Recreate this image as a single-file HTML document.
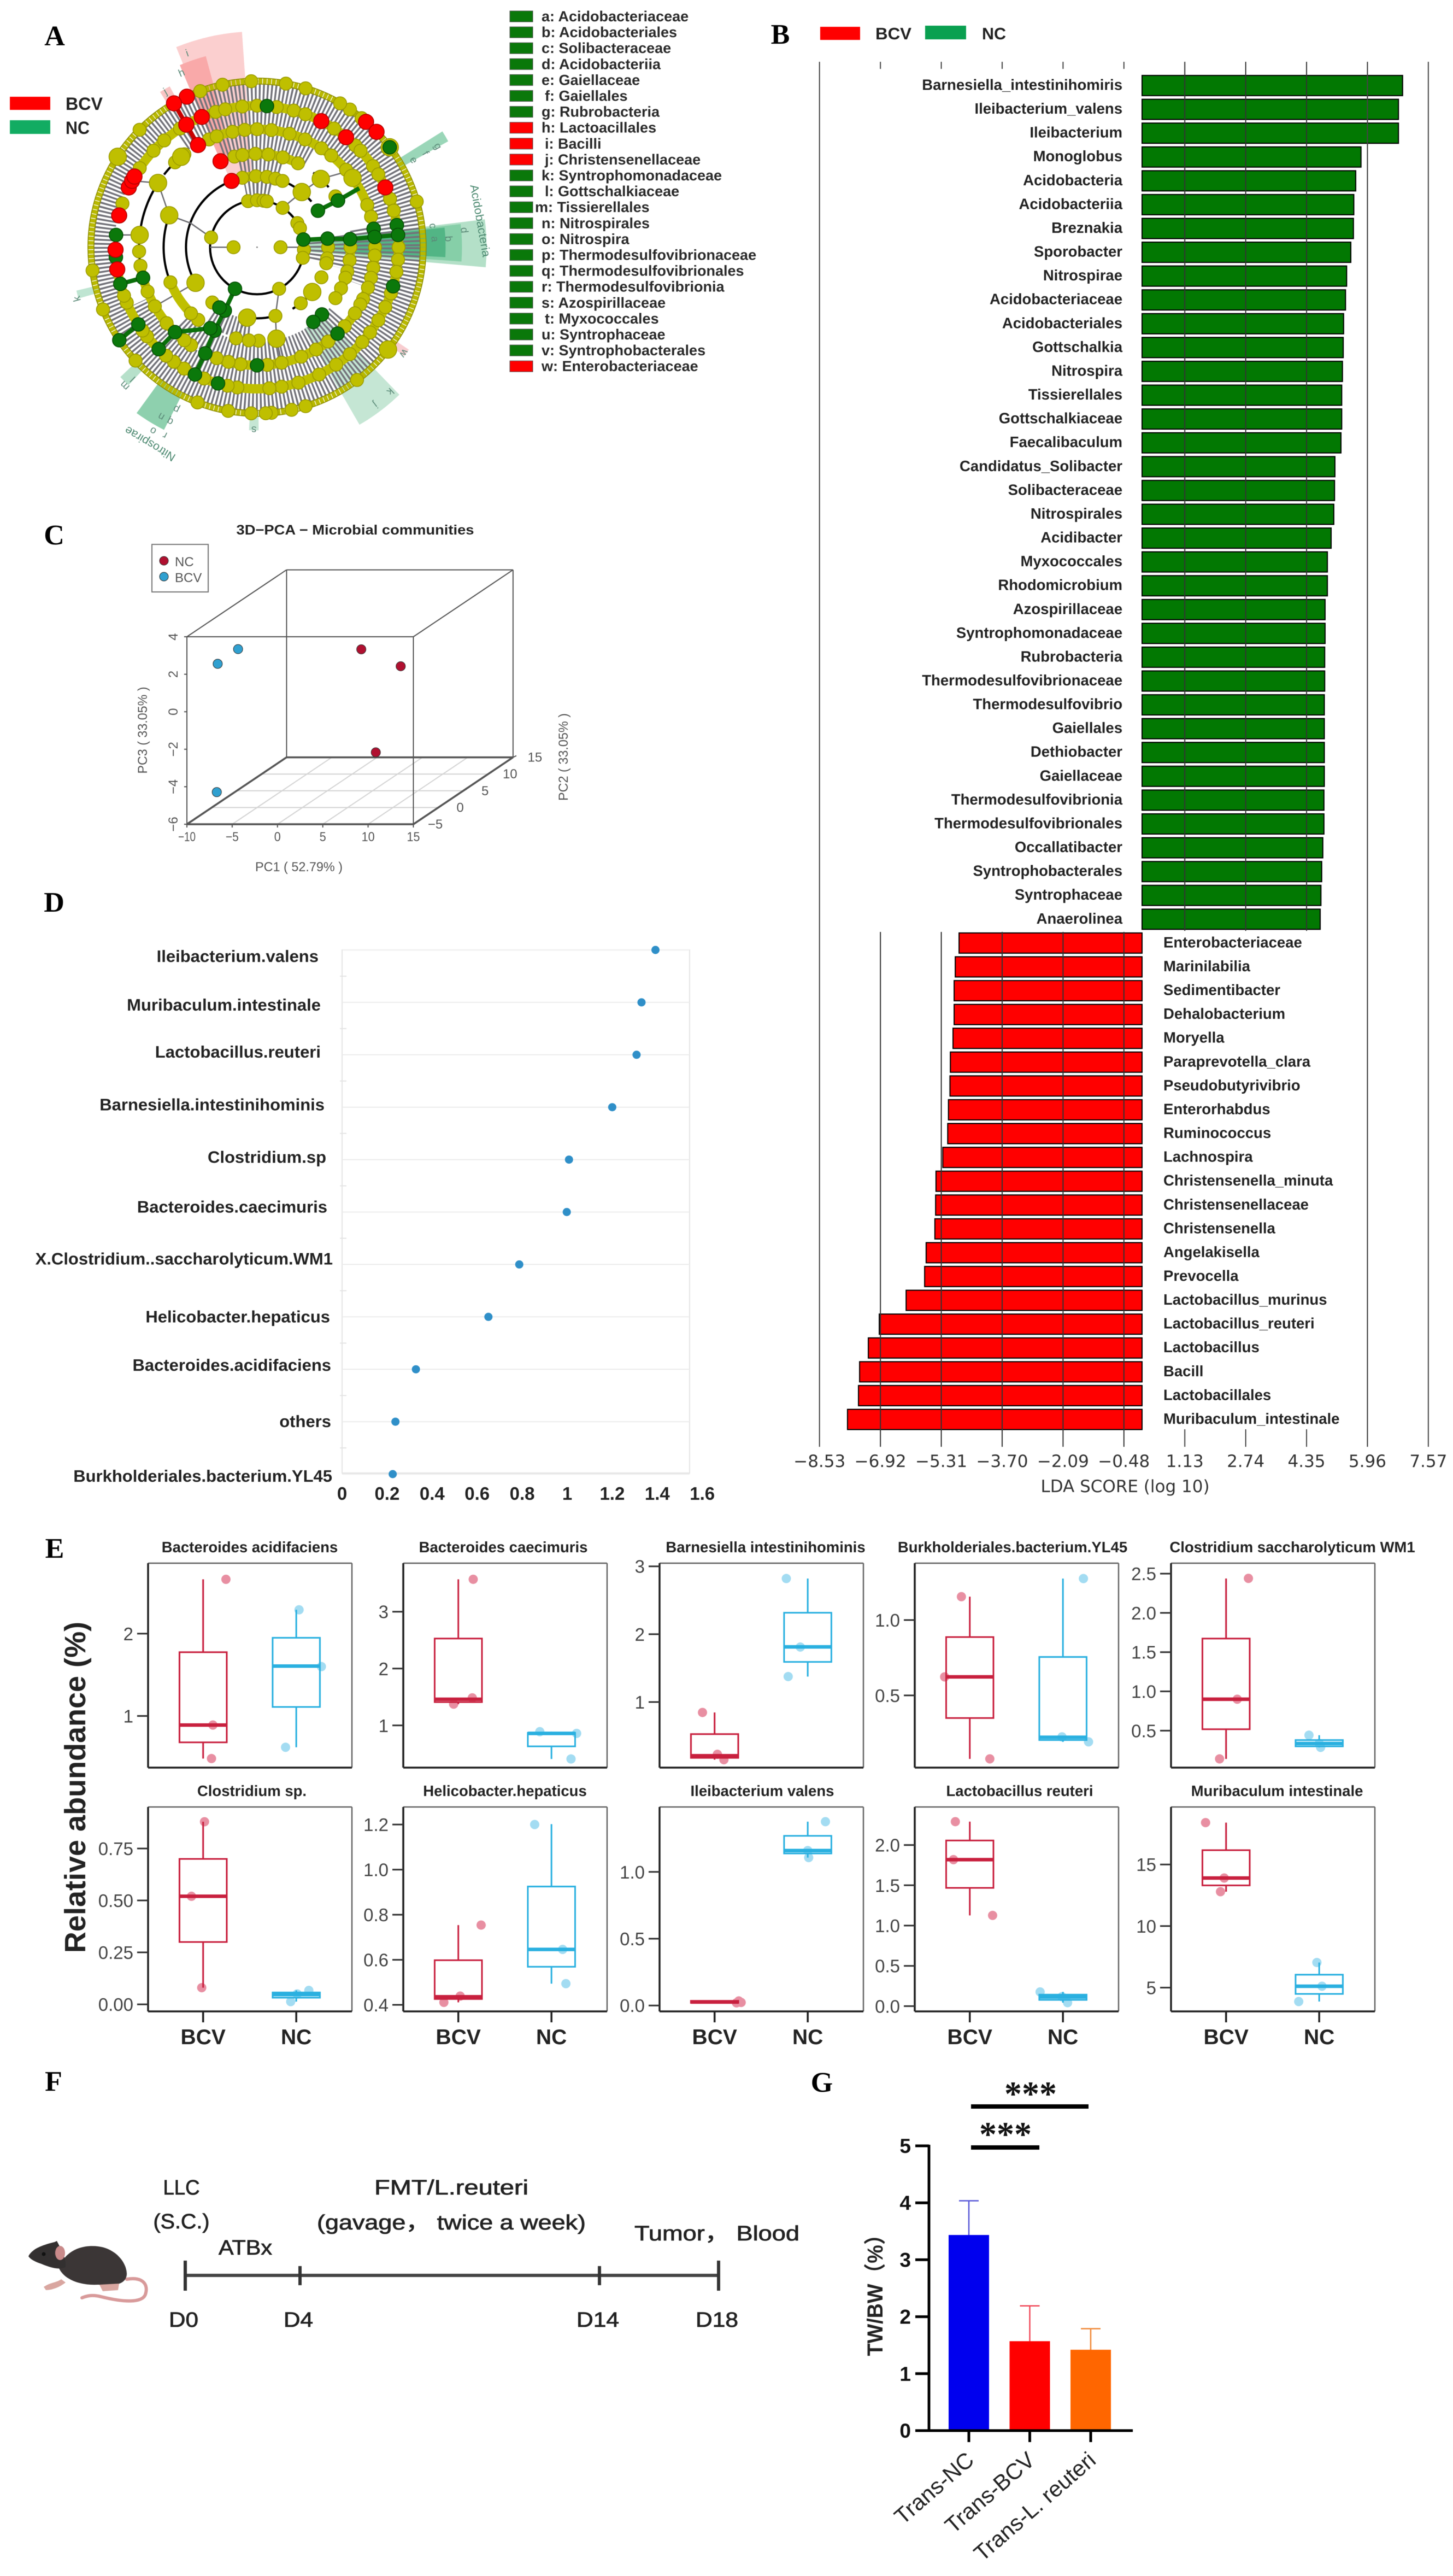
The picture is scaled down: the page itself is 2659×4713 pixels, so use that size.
<!DOCTYPE html>
<html lang="en">
<head>
<meta charset="utf-8">
<title>Microbiome figure panels A-G</title>
<style>
html,body{margin:0;padding:0;background:#fff;}
svg{display:block;filter:blur(0.7px);}
text{font-family:"Liberation Sans","Noto Sans CJK SC",sans-serif;}
</style>
</head>
<body>
<svg id="fig" xmlns="http://www.w3.org/2000/svg" width="2659" height="4713" viewBox="0 0 2659 4713">
  <rect x="0" y="0" width="2659" height="4713" fill="#fff"/>
  <g id="pa"></g>
  <g id="pb"></g>
  <g id="pc"></g>
  <g id="pd"></g>
  <g id="pe"></g>
  <g id="pf">
    <g>
      <path d="M232 4170 C262 4165 272 4180 266 4198 C260 4214 225 4212 185 4202 C170 4198 160 4200 150 4204" fill="none" stroke="#d89a9a" stroke-width="6" stroke-linecap="round"/>
      <path d="M108 4150 C118 4118 150 4106 180 4110 C212 4114 232 4140 232 4160 C232 4178 212 4184 180 4180 C150 4182 118 4172 108 4150Z" fill="#3b3636"/>
      <path d="M52 4128 C60 4112 84 4106 100 4102 L104 4100 C110 4112 122 4130 120 4148 C108 4154 90 4148 76 4142 C64 4138 56 4134 52 4128Z" fill="#333030"/>
      <ellipse cx="110" cy="4122" rx="9" ry="13" fill="#c98a8a"/>
      <circle cx="80" cy="4124" r="3.5" fill="#111"/>
      <path d="M80 4184 C92 4176 104 4176 112 4170 L120 4176 C110 4184 96 4190 84 4190Z" fill="#d9a6a0"/>
      <path d="M182 4180 L218 4178 L216 4190 L188 4192Z" fill="#d9a6a0"/>
    </g>
  </g>
  <g id="pg"></g>
</svg>
<script>
/* ---------- panel A: cladogram values ---------- */
const cladoRadii=[43,86,130,171,216,259,304];
const yellowNodes=[
 [0,180],
 [3,13,-31,-24,-57,-101,-90,-82,-78,62,192],
 [258,269,278,285,291,0,9,13,25,52,75,-31,129],
 [256,261,269,277,286,296,-33,0,8,15,19,26,33,89,95,103,129,135,158],
 [246,250,258,264,270,277,286,294,303,309,319,339,345,0,4,10,15,20,26,29,34,42,53,60,68,78,85,98,104,110,124,128,140,150,158,171,178,226,232],
 [253,257,264,270,278,285,290,303,314,317,325,329,340,345,0,5,10,19,25,31,37,42,49,56,64,73,80,85,98,102,112,121,126,130,141,144,157,160,198,214,223,229,237],
 [268,287,304,309,344,53,73,78,85,87,92,100,111,137,158,172,225,250,258,280,300]
];
const bigYellowNodes=[[],[],[-51,39,98,150],[-47,78,200],[186,213,230,324],[],[213,323,38]];
const greenNodes=[[],[-9.5,118],[-7,-31,117,122],[-5,-30,46,53,117,120],[-9,-5,47,90,116,134,165],[274,351,355,16,106,116,134,147,165,176,185],[146,323]];
const redNodes=[[],[],[249],[247],[240],[247,240,297,309,335,171,179,193,205,208,210],[245,240,311,316]];
/* continuous runs of clustered neutral nodes: [ring index, from angle, to angle] */
const cladoNodeRuns=[[2,258,291],[2,0,13],[3,256,296],[3,0,33],[3,129,158],[4,246,345],[4,0,110],[4,124,171],[5,214,360],[5,0,170]];

/* ---------- panel A: legend ---------- */
const cladoLegendNames=["a: Acidobacteriaceae","b: Acidobacteriales","c: Solibacteraceae","d: Acidobacteriia","e: Gaiellaceae","f: Gaiellales","g: Rubrobacteria","h: Lactoacillales","i: Bacilli","j: Christensenellaceae","k: Syntrophomonadaceae","l: Gottschalkiaceae","m: Tissierellales","n: Nitrospirales","o: Nitrospira","p: Thermodesulfovibrionaceae","q: Thermodesulfovibrionales","r: Thermodesulfovibrionia","s: Azospirillaceae","t: Myxococcales","u: Syntrophaceae","v: Syntrophobacterales","w: Enterobacteriaceae"];
const cladoLegendGroups=["NC","NC","NC","NC","NC","NC","NC","BCV","BCV","BCV","NC","NC","NC","NC","NC","NC","NC","NC","NC","NC","NC","NC","BCV"];

/* ---------- panel B: LDA ---------- */
const ldaTicks=[-8.53,-6.92,-5.31,-3.70,-2.09,-0.48,1.13,2.74,4.35,5.96,7.57];
const ncTaxa=["Barnesiella_intestinihomiris","Ileibacterium_valens","Ileibacterium","Monoglobus","Acidobacteria","Acidobacteriia","Breznakia","Sporobacter","Nitrospirae","Acidobacteriaceae","Acidobacteriales","Gottschalkia","Nitrospira","Tissierellales","Gottschalkiaceae","Faecalibaculum","Candidatus_Solibacter","Solibacteraceae","Nitrospirales","Acidibacter","Myxococcales","Rhodomicrobium","Azospirillaceae","Syntrophomonadaceae","Rubrobacteria","Thermodesulfovibrionaceae","Thermodesulfovibrio","Gaiellales","Dethiobacter","Gaiellaceae","Thermodesulfovibrionia","Thermodesulfovibrionales","Occallatibacter","Syntrophobacterales","Syntrophaceae","Anaerolinea"];
const ncLda=[6.89,6.78,6.78,5.79,5.65,5.6,5.59,5.52,5.41,5.38,5.33,5.32,5.30,5.28,5.28,5.26,5.10,5.09,5.07,5.0,4.9,4.9,4.84,4.84,4.83,4.83,4.82,4.82,4.82,4.82,4.81,4.81,4.78,4.75,4.73,4.71];
const bcvTaxa=["Enterobacteriaceae","Marinilabilia","Sedimentibacter","Dehalobacterium","Moryella","Paraprevotella_clara","Pseudobutyrivibrio","Enterorhabdus","Ruminococcus","Lachnospira","Christensenella_minuta","Christensenellaceae","Christensenella","Angelakisella","Prevocella","Lactobacillus_murinus","Lactobacillus_reuteri","Lactobacillus","Bacill","Lactobacillales","Muribaculum_intestinale"];
const bcvLda=[-4.84,-4.94,-4.97,-4.97,-5.0,-5.07,-5.08,-5.12,-5.14,-5.27,-5.45,-5.46,-5.48,-5.71,-5.75,-6.24,-6.95,-7.24,-7.47,-7.5,-7.79];

/* ---------- panel C: PCA ---------- */
const pcaGroups=["BCV","BCV","BCV","NC","NC","NC"];
const pc1Values=[-7.1,-7.7,-8.9,5.4,9.2,1.5];
const pc2Values=[0,-3,-1,2,3,12];
const pc3Values=[2.45,2.2,-5.0,2.08,1.0,-5.2];
const pc1Ticks=[-10,-5,0,5,10,15];
const pc2Ticks=[-5,0,5,10,15];
const pc3Ticks=[-6,-4,-2,0,2,4];

/* ---------- panel D: dotplot ---------- */
const importanceTaxa=["Ileibacterium.valens","Muribaculum.intestinale","Lactobacillus.reuteri","Barnesiella.intestinihominis","Clostridium.sp","Bacteroides.caecimuris","X.Clostridium..saccharolyticum.WM1","Helicobacter.hepaticus","Bacteroides.acidifaciens","others","Burkholderiales.bacterium.YL45"];
const importanceValues=[1.392,1.33,1.308,1.20,1.008,0.998,0.787,0.65,0.328,0.237,0.225];
const importanceTicks=[0,0.2,0.4,0.6,0.8,1,1.2,1.4,1.6];

/* ---------- panel E: boxplots ---------- */
const boxTitles=["Bacteroides acidifaciens","Bacteroides caecimuris","Barnesiella intestinihominis","Burkholderiales.bacterium.YL45","Clostridium saccharolyticum WM1","Clostridium sp.","Helicobacter.hepaticus","Ileibacterium valens","Lactobacillus reuteri","Muribaculum intestinale"];
const boxDomains=[[0.373,2.856],[0.258,3.853],[0.033,3.046],[0.021,1.377],[0.029,2.633],[-0.034,0.95],[0.371,1.278],[-0.044,1.486],[-0.065,2.472],[3.07,19.67]];
const boxTicks=[[1,2],[1,2,3],[1,2,3],[0.5,1],[0.5,1,1.5,2,2.5],[0,0.25,0.5,0.75],[0.4,0.6,0.8,1,1.2],[0,0.5,1],[0,0.5,1,1.5,2],[5,10,15]];
const boxTickDecimals=[0,0,0,1,1,2,1,1,1,0];
/* [min, q1, median, q3, max] */
const bcvStats=[[0.483,0.68,0.89,1.775,2.66],[1.374,1.41,1.46,2.528,3.57],[0.15,0.177,0.208,0.527,0.846],[0.079,0.35,0.623,0.887,1.155],[0.14,0.518,0.9,1.673,2.438],[0.08,0.30,0.52,0.70,0.879],[0.411,0.426,0.436,0.598,0.754],[0.02,0.02,0.026,0.035,0.034],[1.126,1.468,1.818,2.056,2.29],[12.79,13.3,13.9,16.16,18.4]];
const ncStats=[[0.62,1.11,1.606,1.95,2.29],[0.41,0.632,0.86,0.87,0.89],[1.375,1.591,1.812,2.316,2.82],[0.192,0.204,0.222,0.755,1.275],[0.287,0.3,0.336,0.38,0.442],[0.013,0.032,0.047,0.057,0.067],[0.494,0.569,0.646,0.925,1.202],[1.107,1.138,1.16,1.27,1.376],[0.043,0.078,0.113,0.143,0.177],[3.87,4.49,5.11,6.05,7.04]];
const bcvPoints=[[2.66,0.89,0.483],[3.57,1.485,1.374],[0.846,0.229,0.15],[1.155,0.623,0.079],[2.44,0.9,0.14],[0.879,0.52,0.08],[0.754,0.439,0.411],[0.034,0.02,0.023],[2.29,1.818,1.126],[18.4,13.9,12.79]];
const ncPoints=[[2.29,1.6,0.62],[0.89,0.86,0.41],[2.82,1.81,1.375],[1.275,0.225,0.192],[0.442,0.287,0.336],[0.067,0.05,0.013],[1.2,0.646,0.494],[1.376,1.16,1.107],[0.177,0.117,0.043],[7.04,5.11,3.87]];
const bcvJitter=[[0.245,0.105,0.09],[0.16,0.15,-0.05],[-0.13,0.03,0.10],[-0.09,-0.27,0.215],[0.24,0.12,-0.07],[0.015,-0.125,-0.015],[0.245,0.02,-0.155],[0.26,0.235,0.285],[-0.155,-0.175,0.245],[-0.22,-0.02,-0.06]];
const ncJitter=[[0.03,0.27,-0.115],[-0.125,0.27,0.21],[-0.23,-0.08,-0.21],[0.22,-0.01,0.275],[-0.11,0.015,0],[0.135,0.01,-0.06],[-0.18,0.12,0.155],[0.19,0,0.01],[-0.245,-0.01,0.05],[-0.025,0.03,-0.22]];
const boxGroups=["BCV","NC"];

/* ---------- panel F: timeline ---------- */
const timelineDays=[0,4,14,18];
const timelineLabels=["D0","D4","D14","D18"];

/* ---------- panel G: bars ---------- */
const tumorGroups=["Trans-NC","Trans-BCV","Trans-L. reuteri"];
const tumorMeans=[3.435,1.57,1.42];
const tumorUpper=[4.035,2.19,1.79];
const tumorTicks=[0,1,2,3,4,5];

/* ---------- helpers ---------- */
const NS="http://www.w3.org/2000/svg";
function mk(parent,tag,attrs,name){
  const el=document.createElementNS(NS,tag);
  for(const k in attrs){el.setAttribute(k,attrs[k]);}
  
  
  parent.appendChild(el);
  return el;
}
function txt(parent,x,y,str,o,name){
  const a={x:x,y:y,'font-size':o.size,fill:o.fill||'#111','text-anchor':o.anchor||'start'};
  if(o.weight)a['font-weight']=o.weight;
  if(o.family)a['style']='font-family:'+o.family;
  if(o.rotate!==undefined)a.transform='rotate('+o.rotate+' '+x+' '+y+')';
  if(o.width){a.textLength=o.width;a.lengthAdjust='spacingAndGlyphs';}
  if(o.strokeW){a.stroke=o.fill||'#111';a['stroke-width']=o.strokeW;}
  const el=mk(parent,'text',a,name);
  el.textContent=str;
  return el;
}
function line(parent,x1,y1,x2,y2,stroke,w,name){
  return mk(parent,'line',{x1:x1,y1:y1,x2:x2,y2:y2,stroke:stroke,'stroke-width':w},name);
}
const SERIF='"Liberation Serif",serif';
function panelLetter(parent,x,y,s){
  txt(parent,x,y,s,{size:52,weight:'bold',anchor:'middle',family:SERIF,fill:'#000'},'panel-label-'+s.toLowerCase());
}

/* ---------- panel A ---------- */
(function(){
  const g=document.getElementById('pa');
  const cx=470.4,cy=452.4;
  const pol=(r,t)=>[cx+r*Math.cos(t*Math.PI/180),cy+r*Math.sin(t*Math.PI/180)];
  function arcPath(r,t1,t2){
    const a=pol(r,t1),b=pol(r,t2);
    const large=Math.abs(t2-t1)>180?1:0;
    return 'M'+a[0]+' '+a[1]+' A'+r+' '+r+' 0 '+large+' 1 '+b[0]+' '+b[1];
  }
  function wedge(r1,r2,t1,t2,fill,name){
    const a=pol(r1,t1),b=pol(r2,t1),c=pol(r2,t2),d=pol(r1,t2);
    mk(g,'path',{d:'M'+a.join(' ')+' L'+b.join(' ')+' A'+r2+' '+r2+' 0 0 1 '+c.join(' ')+' L'+d.join(' ')+' A'+r1+' '+r1+' 0 0 0 '+a.join(' ')+'Z',fill:fill},name);
  }
  panelLetter(g,100,83,'A');
  mk(g,'rect',{x:18,y:177,width:74,height:24,fill:'#ff0000'},'legend-swatch-bcv');
  txt(g,120,201,'BCV',{size:32,weight:'bold',fill:'#222',width:68},'legend-label-bcv');
  mk(g,'rect',{x:18,y:220,width:74,height:25,fill:'#12ac62'},'legend-swatch-nc');
  txt(g,120,245,'NC',{size:32,weight:'bold',fill:'#222',width:44},'legend-label-nc');

  wedge(130,395,248,266,'#fbcfcf','clade-shade-bacilli');
  wedge(172,362,247,255,'#f9a9a9','clade-shade-lactobacillales');
  wedge(300,335,238,241.5,'#f9c4c4','clade-shade-christensenellaceae');
  wedge(86,420,-7,5,'#b4e0c8','clade-shade-acidobacteria');
  wedge(130,375,-6.5,4,'#86cfa8','clade-shade-acidobacteriia');
  wedge(172,345,-6,3,'#52b585','clade-shade-acidobacteriales');
  wedge(300,400,-32,-29,'#9ad6b8','clade-shade-rubrobacteria');
  wedge(172,375,46,60,'#c5e6d4','clade-shade-gottschalkiaceae');
  wedge(300,375,117,126,'#8ed0ae','clade-shade-nitrospirae');
  wedge(300,345,133,136.5,'#b6e0ca','clade-shade-tissierellales');
  wedge(300,340,164,166.5,'#bfe5d2','clade-shade-syntrophomonadaceae');
  wedge(300,335,34,36.5,'#f8cdd0','clade-shade-enterobacteriaceae');
  wedge(300,335,89.5,92.5,'#c5e6d4','clade-shade-azospirillaceae');

  const combs=[[88,128,262,283],[88,128,-9,13],[132,169,258,288],[132,169,-8,14],[132,169,95,125],[173,214,250,300],[173,214,-10,20],[173,214,40,135],[218,257,235,515],[261,300,0,359.9]];
  combs.forEach(function(c){
    const r=(c[0]+c[1])/2;
    const d=Math.abs(c[3]-c[2])>355?
      'M'+(cx+r)+' '+cy+' A'+r+' '+r+' 0 1 1 '+(cx-r)+' '+cy+' A'+r+' '+r+' 0 1 1 '+(cx+r)+' '+cy:
      arcPath(r,c[2],c[3]);
    mk(g,'path',{d:d,fill:'none',stroke:'#73737a','stroke-width':c[1]-c[0],'stroke-dasharray':'3.4 3.8'},'clade-branch-comb');
  });

  mk(g,'circle',{cx:cx,cy:cy,r:cladoRadii[1],fill:'none',stroke:'#000','stroke-width':4},'clade-ring-2');
  const blackArcs=[[130,150,250],[130,40,60],[130,75,98],[130,285,320],[171,158,200],[171,-53,-40],[216,172,213],[216,218,232]];
  blackArcs.forEach(function(a){
    mk(g,'path',{d:arcPath(a[0],a[1],a[2]),fill:'none',stroke:'#000','stroke-width':4},'clade-ring-arc');
  });

  const grayLinks=[[43,180,86,180],[43,0,86,0],[86,192,130,200],[130,200,171,200],[171,200,216,213],[216,186,259,185],[216,213,259,208],[86,-57,130,-51],[130,-51,171,-47],[171,-47,216,-40],[86,62,130,75],[130,98,171,103],[130,75,171,78],[171,78,216,78],[171,150,216,150],[130,150,171,150],[86,-90,130,-90],[86,-82,130,-82],[86,-101,130,-101]];
  grayLinks.forEach(function(l){
    const a=pol(l[0],l[1]),b=pol(l[2],l[3]);
    line(g,a[0],a[1],b[0],b[1],'#6d6d72',2.5,'clade-branch');
  });
  cladoNodeRuns.forEach(function(run){
    const r=cladoRadii[run[0]];
    const span=run[2]-run[1];
    const mid=run[1]+span/2;
    mk(g,'path',{d:arcPath(r,run[1],mid)+' '+arcPath(r,mid,run[2]),fill:'none',stroke:'#bfbf00','stroke-width':17,'stroke-linecap':'round'},'clade-node-cluster');
  });
  const thickLinks=[
    [[[86,118],[130,117],[171,117],[216,116],[259,116]],'#0a700a'],
    [[[86,-9],[130,-7],[171,-5],[216,-5],[259,-5]],'#0a700a'],
    [[[130,-31],[171,-30],[216,-30]],'#0a700a'],
    [[[216,165],[259,165]],'#0a700a'],
    [[[259,147],[304,146]],'#0a700a'],
    [[[171,120],[216,134],[259,134]],'#0a700a'],
    [[[216,240],[259,240],[304,240]],'#c80000']
  ];
  thickLinks.forEach(function(l){
    const pts=l[0].map(function(p){return pol(p[0],p[1]).join(',');}).join(' ');
    mk(g,'polyline',{points:pts,fill:'none',stroke:l[1],'stroke-width':8},'clade-highlight-branch');
  });

  const outer=cladoRadii[6];
  mk(g,'circle',{cx:cx,cy:cy,r:outer,fill:'none',stroke:'#b8b800','stroke-width':12,'stroke-dasharray':'7 1.2'},'clade-outer-node-ring');
  mk(g,'circle',{cx:cx,cy:cy,r:outer+5.5,fill:'none',stroke:'#8c8c00','stroke-width':1.5},'clade-outer-edge');
  mk(g,'circle',{cx:cx,cy:cy,r:outer-5.5,fill:'none',stroke:'#8c8c00','stroke-width':1.5},'clade-outer-edge');

  function nodes(list,rad,fill,stroke,name){
    list.forEach(function(arr,i){
      arr.forEach(function(t){
        const p=pol(cladoRadii[i],t);
        mk(g,'circle',{cx:p[0],cy:p[1],r:rad,fill:fill,stroke:stroke,'stroke-width':1.5},name);
      });
    });
  }
  nodes(yellowNodes,12,'#bfbf00','#9a9a00','clade-node-neutral');
  nodes(bigYellowNodes,16,'#bfbf00','#9a9a00','clade-node-neutral-large');
  nodes(greenNodes,12.5,'#0b780b','#064d06','clade-node-nc');
  nodes(redNodes,14,'#ff0000','#b00000','clade-node-bcv');
  mk(g,'circle',{cx:cx,cy:cy,r:1.5,fill:'#888'},'clade-root');

  txt(g,872,405,'Acidobacteria',{size:21,anchor:'middle',fill:'#4e8a72',rotate:80,width:134},'clade-label-acidobacteria');
  txt(g,278,806,'Nitrospirae',{size:21,anchor:'middle',fill:'#4e8a72',rotate:211,width:104},'clade-label-nitrospirae');
  const shadeLetters=[['k',335,165],['m',340,134.4],['l',321,134],['s',322,91],['w',322,35],['i',377,250.5],['h',347,247],['j',330,240],['d',375,-5.6],['c',319,-8],['b',345,-3.5],['a',320,-3.7],['g',376,-30],['f',350,-30],['e',325,-30],['k',349,46.6],['j',350,52.5],['r',372,116.5],['q',345,117],['p',320,117],['o',375,120],['n',345,120]];
  shadeLetters.forEach(function(s){
    const p=pol(s[1],s[2]);
    txt(g,p[0],p[1]+6,s[0],{size:19,anchor:'middle',fill:'#5b8a78',rotate:s[2]+90},'clade-shade-letter');
  });

  cladoLegendNames.forEach(function(n,i){
    const y=30+29.1*i;
    const nc=cladoLegendGroups[i]==='NC';
    mk(g,'rect',{x:933,y:y-10,width:42,height:20,fill:nc?'#0a780a':'#ff0000',stroke:'#555','stroke-width':1},'taxon-key-swatch');
    const ch=n[0];
    const x=ch==='m'?979:('fijlt'.indexOf(ch)>=0?997:991);
    txt(g,x,y+9,n,{size:27,weight:'bold',fill:'#2a2a2a'},'taxon-key-label');
  });
})();

/* ---------- panel B ---------- */
(function(){
  const g=document.getElementById('pb');
  const X=v=>2090+v*69.2;
  const rowY=i=>156.5+43.58*i;
  panelLetter(g,1428,80,'B');
  mk(g,'rect',{x:1501,y:49,width:73,height:24,fill:'#ff0000'},'legend-swatch-bcv');
  txt(g,1602,72,'BCV',{size:31,weight:'bold',fill:'#222',width:66},'legend-label-bcv');
  mk(g,'rect',{x:1693,y:47,width:75,height:25,fill:'#0aa050'},'legend-swatch-nc');
  txt(g,1797,72,'NC',{size:31,weight:'bold',fill:'#222',width:44},'legend-label-nc');

  ncTaxa.forEach(function(n,i){
    const y=rowY(i);
    mk(g,'rect',{x:X(0),y:y-18.5,width:X(ncLda[i])-X(0),height:37,fill:'#027802',stroke:'#000','stroke-width':2},'bar-nc');
    txt(g,2054,y+8,n,{size:27.5,weight:'bold',anchor:'end',fill:'#222'},'taxon-label-nc');
  });
  bcvTaxa.forEach(function(n,i){
    const y=rowY(i+ncTaxa.length);
    mk(g,'rect',{x:X(bcvLda[i]),y:y-18.5,width:X(0)-X(bcvLda[i]),height:37,fill:'#ff0000',stroke:'#000','stroke-width':2},'bar-bcv');
    txt(g,2129,y+8,n,{size:27.5,weight:'bold',fill:'#222'},'taxon-label-bcv');
  });
  ldaTicks.forEach(function(t){
    const x=X(t);
    if(t<-7||t>5){
      line(g,x,113,x,2647,'#444',2,'lda-gridline');
    }else if(t<0){
      line(g,x,113,x,126,'#444',2,'lda-tick-top');
      line(g,x,1705,x,2647,'#333',2,'lda-gridline');
    }else{
      line(g,x,113,x,1703,'#333',2,'lda-gridline');
      line(g,x,2615,x,2647,'#444',2,'lda-tick-bottom');
    }
    txt(g,x,2684,(t<0?'\u2212':'')+Math.abs(t).toFixed(2),{size:31,anchor:'middle',fill:'#333',family:'"DejaVu Sans",sans-serif'},'lda-tick-label');
  });
  txt(g,2059,2730,'LDA SCORE (log 10)',{size:31,anchor:'middle',fill:'#333',family:'"DejaVu Sans",sans-serif'},'x-axis-title');
})();

/* ---------- panel C ---------- */
(function(){
  const g=document.getElementById('pc');
  const P=(a,b,c)=>[342+(a+10)*16.58+(b+5)*9.12,1508-(b+5)*6.12-(c+6)*34.3];
  panelLetter(g,99,996,'C');
  panelLetter(g,99,1668,'D');
  txt(g,650,978,'3D\u2212PCA \u2212 Microbial communities',{size:25,weight:'bold',anchor:'middle',fill:'#222',width:435},'chart-title');
  mk(g,'rect',{x:278,y:996,width:103,height:87,fill:'#fff',stroke:'#777','stroke-width':2},'legend-box');
  mk(g,'circle',{cx:300,cy:1026,r:8,fill:'#b01030',stroke:'#333','stroke-width':1},'legend-marker-nc');
  txt(g,320,1036,'NC',{size:24,fill:'#555'},'legend-label-nc');
  mk(g,'circle',{cx:300,cy:1055,r:8,fill:'#30a0d0',stroke:'#333','stroke-width':1},'legend-marker-bcv');
  txt(g,320,1065,'BCV',{size:24,fill:'#555'},'legend-label-bcv');

  pc2Ticks.slice(1,4).forEach(function(v){
    const a=P(-10,v,-6),b=P(15,v,-6);
    line(g,a[0],a[1],b[0],b[1],'#d4d4d4',2,'floor-gridline');
  });
  pc1Ticks.slice(1,5).forEach(function(v){
    const a=P(v,-5,-6),b=P(v,15,-6);
    line(g,a[0],a[1],b[0],b[1],'#d4d4d4',2,'floor-gridline');
  });
  const corners=[[[-10,-5,4],[15,-5,4]],[[-10,-5,4],[-10,-5,-6]],[[15,-5,4],[15,-5,-6]],[[-10,15,4],[15,15,4]],[[-10,15,4],[-10,15,-6]],[[15,15,4],[15,15,-6]],[[-10,-5,4],[-10,15,4]],[[15,-5,4],[15,15,4]]];
  corners.forEach(function(c){
    const a=P.apply(null,c[0]),b=P.apply(null,c[1]);
    line(g,a[0],a[1],b[0],b[1],'#555',2,'cube-edge');
  });
  const floorEdges=[[[-10,-5,-6],[15,-5,-6]],[[-10,15,-6],[15,15,-6]],[[-10,-5,-6],[-10,15,-6]],[[15,-5,-6],[15,15,-6]]];
  floorEdges.forEach(function(c){
    const a=P.apply(null,c[0]),b=P.apply(null,c[1]);
    line(g,a[0],a[1],b[0],b[1],'#555',3.5,'cube-floor-edge');
  });
  pc1Ticks.forEach(function(v){
    const p=P(v,-5,-6);
    line(g,p[0],p[1],p[0],p[1]+6,'#555',2,'pc1-tick');
    txt(g,p[0],1539,(v<0?'\u2212':'')+Math.abs(v),{size:24,anchor:'middle',fill:'#555',width:(v===-10?32:(v===-5?24:(v>=10?24:12)))},'pc1-tick-label');
  });
  pc2Ticks.forEach(function(v){
    const p=P(15,v,-6);
    line(g,p[0],p[1],p[0]+6,p[1]-3,'#555',2,'pc2-tick');
    txt(g,p[0]+40,p[1]+8,(v<0?'\u2212':'')+Math.abs(v),{size:24,anchor:'middle',fill:'#555'},'pc2-tick-label');
  });
  pc3Ticks.forEach(function(v){
    const p=P(-10,-5,v);
    line(g,p[0]-5,p[1],p[0],p[1],'#555',2,'pc3-tick');
    txt(g,325,p[1],(v<0?'\u2212':'')+Math.abs(v),{size:24,anchor:'middle',fill:'#555',rotate:-90},'pc3-tick-label');
  });
  txt(g,547,1594,'PC1 ( 52.79% )',{size:24,anchor:'middle',fill:'#555',width:160},'x-axis-title');
  txt(g,269,1336,'PC3 ( 33.05% )',{size:24,anchor:'middle',fill:'#555',rotate:-90,width:159},'z-axis-title');
  txt(g,1039,1385,'PC2 ( 33.05% )',{size:24,anchor:'middle',fill:'#555',rotate:-90,width:160},'y-axis-title');
  pcaGroups.forEach(function(gr,i){
    const p=P(pc1Values[i],pc2Values[i],pc3Values[i]);
    mk(g,'circle',{cx:p[0],cy:p[1],r:8.5,fill:gr==='NC'?'#b01030':'#30a0d0',stroke:'#333','stroke-width':1},'pca-point-'+gr.toLowerCase());
  });
})();

/* ---------- panel D ---------- */
(function(){
  const g=document.getElementById('pd');
  const X=v=>626+v*412;
  const rowY=i=>1738+95.9*i;
  const labelNudgeX=[-17,-13,-13,-6,-3,-1,9,4,6,6,8];
  const labelNudgeY=[11,4,-6,-5,-5,-10,-11,-1,-8,-1,3];
  mk(g,'rect',{x:626,y:1738,width:636,height:957,fill:'none',stroke:'#e4e4e4','stroke-width':2},'plot-border');
  importanceTaxa.forEach(function(n,i){
    const y=rowY(i);
    line(g,626,y,1262,y,'#ececec',2,'row-gridline');
    if(i<importanceTaxa.length-1){line(g,622,y+48,634,y+48,'#e4e4e4',2,'minor-tick');}
    txt(g,600+labelNudgeX[i],y+labelNudgeY[i]+11,n,{size:31,weight:'bold',anchor:'end',fill:'#222'},'importance-label');
    mk(g,'circle',{cx:X(importanceValues[i]),cy:y,r:7.5,fill:'#2f8fc8'},'importance-point');
  });
  importanceTicks.forEach(function(t){
    txt(g,X(t),2744,String(t),{size:33,weight:'bold',anchor:'middle',fill:'#222'},'importance-tick-label');
  });
})();

/* ---------- panel E ---------- */
(function(){
  const g=document.getElementById('pe');
  const lefts=[271,738,1207,1674,2143];
  const tops=[2860,3306];
  const W=373,H=374;
  const titleCenters=[457,921,1401,1853,2365,461,924,1395,1866,2337];
  panelLetter(g,100,2850,'E');
  txt(g,156,3270,'Relative abundance (%)',{size:54,weight:'bold',anchor:'middle',fill:'#222',rotate:-90},'y-axis-title');
  const BCV={line:'#c8203e',point:'#e88fa2'};
  const NC={line:'#2ab0e0',point:'#a3dcf2'};
  boxTitles.forEach(function(title,i){
    const col=i%5,row=Math.floor(i/5);
    const L=lefts[col],T=tops[row];
    const d=boxDomains[i];
    const Y=v=>T+H-(v-d[0])/(d[1]-d[0])*H;
    const xc=k=>L+W*(0.27+0.457*k);
    const pg=mk(g,'g',{},'boxplot-'+title.toLowerCase().replace(/[^a-z0-9]+/g,'-'));
    txt(pg,titleCenters[i],T-20,title,{size:27.5,weight:'bold',anchor:'middle',fill:'#222'},'boxplot-title');
    line(pg,L,T,L+W,T,'#666',2.5,'panel-top-edge');
    line(pg,L+W,T,L+W,T+H,'#666',2.5,'panel-right-edge');
    line(pg,L,T,L,T+H,'#222',3.5,'y-axis-line');
    line(pg,L,T+H,L+W,T+H,'#222',3.5,'x-axis-line');
    boxTicks[i].forEach(function(t){
      line(pg,L-20,Y(t),L,Y(t),'#333',3,'y-tick');
      txt(pg,L-27,Y(t)+12,t.toFixed(boxTickDecimals[i]),{size:33,anchor:'end',fill:'#444'},'y-tick-label');
    });
    if(row===1){
      boxGroups.forEach(function(name,k){
        line(pg,xc(k),T+H,xc(k),T+H+20,'#222',3.5,'x-tick');
        txt(pg,xc(k),3740,name,{size:39,weight:'bold',anchor:'middle',fill:'#222'},'x-tick-label');
      });
    }
    [[bcvStats,bcvPoints,bcvJitter,BCV,'bcv'],[ncStats,ncPoints,ncJitter,NC,'nc']].forEach(function(s,k){
      const st=s[0][i],col=s[3],cx=xc(k),hw=W*0.116;
      s[1][i].forEach(function(v,j){
        mk(pg,'circle',{cx:cx+s[2][i][j]*W*0.457,cy:Y(v),r:8.5,fill:col.point},'point-'+s[4]);
      });
      line(pg,cx,Y(st[4]),cx,Y(st[3]),col.line,3,'whisker-upper-'+s[4]);
      line(pg,cx,Y(st[1]),cx,Y(st[0]),col.line,3,'whisker-lower-'+s[4]);
      mk(pg,'rect',{x:cx-hw,y:Y(st[3]),width:hw*2,height:Math.max(Y(st[1])-Y(st[3]),1),fill:'none',stroke:col.line,'stroke-width':3},'box-'+s[4]);
      line(pg,cx-hw,Y(st[2]),cx+hw,Y(st[2]),col.line,6.5,'median-'+s[4]);
    });
  });
})();

/* ---------- panel F ---------- */
(function(){
  const g=document.getElementById('pf');
  const X=d=>339+(d<=4?d*52.5:(d<=14?210+(d-4)*54.8:758+(d-14)*54.5));
  panelLetter(g,98,3825,'F');
  line(g,X(0),4163,X(18),4163,'#444',6,'timeline-axis');
  timelineDays.forEach(function(d,i){
    const tall=i===0||i===3;
    line(g,X(d),tall?4136:4146,X(d),tall?4191:4181,'#333',6,'timeline-tick');
    txt(g,X(d)-3,4257,timelineLabels[i],{size:38,anchor:'middle',fill:'#222',width:i<2?54:78,strokeW:0.8},'timeline-day-label');
  });
  const C={size:38,anchor:'middle',fill:'#222',strokeW:0.8};
  txt(g,332,4015,'LLC',Object.assign({width:67},C),'step-llc');
  txt(g,332,4077,'(S.C.)',Object.assign({width:103},C),'step-sc');
  txt(g,449,4125,'ATBx',Object.assign({width:98},C),'step-atbx');
  txt(g,826,4015,'FMT/L.reuteri',Object.assign({width:282},C),'step-fmt');
  txt(g,826,4079,'(gavage\uff0c twice a week)',Object.assign({width:492},C),'step-gavage');
  txt(g,1312,4099,'Tumor\uff0c Blood',Object.assign({width:302},C),'step-endpoint');
})();

/* ---------- panel G ---------- */
(function(){
  const g=document.getElementById('pg');
  const Y=v=>4447-v*104.2;
  const X=i=>1773+i*111.5;
  const barColors=['#0000ee','#ff0000','#ff6600'];
  const errColors=['#5a5ad8','#f04a5a','#f08a3a'];
  panelLetter(g,1504,3827,'G');
  tumorGroups.forEach(function(n,i){
    line(g,X(i),Y(tumorUpper[i]),X(i),Y(tumorMeans[i]),errColors[i],2.5,'error-bar');
    line(g,X(i)-18,Y(tumorUpper[i]),X(i)+18,Y(tumorUpper[i]),errColors[i],2.5,'error-cap');
    mk(g,'rect',{x:X(i)-37,y:Y(tumorMeans[i]),width:74,height:Y(0)-Y(tumorMeans[i]),fill:barColors[i]},'bar-'+n.toLowerCase().replace(/[^a-z]+/g,'-'));
    line(g,X(i),4447,X(i),4468,'#000',5,'x-tick');
    txt(g,X(i)+12,4505,n,{size:41,anchor:'end',fill:'#222',rotate:-41},'x-tick-label');
  });
  line(g,1700,Y(5)-2,1700,4449,'#000',5,'y-axis-line');
  line(g,1675,4447,2073,4447,'#000',5,'x-axis-line');
  tumorTicks.forEach(function(t){
    line(g,1675,Y(t),1700,Y(t),'#000',5,'y-tick');
    txt(g,1667,Y(t)+13,String(t),{size:37,weight:'bold',anchor:'end',fill:'#111'},'y-tick-label');
  });
  txt(g,1615,4190,'TW/BW\uff08%\uff09',{size:40,weight:'bold',anchor:'middle',fill:'#222',rotate:-90,width:241},'y-axis-title');
  mk(g,'rect',{x:1777,y:3850,width:215,height:8,fill:'#000'},'significance-bar-long');
  mk(g,'rect',{x:1777,y:3925,width:125,height:8,fill:'#000'},'significance-bar-short');
  txt(g,1886,3852,'***',{size:64,weight:'bold',anchor:'middle',fill:'#111',family:SERIF},'significance-stars-long');
  txt(g,1840,3926,'***',{size:64,weight:'bold',anchor:'middle',fill:'#111',family:SERIF},'significance-stars-short');
})();
</script>
</body>
</html>
